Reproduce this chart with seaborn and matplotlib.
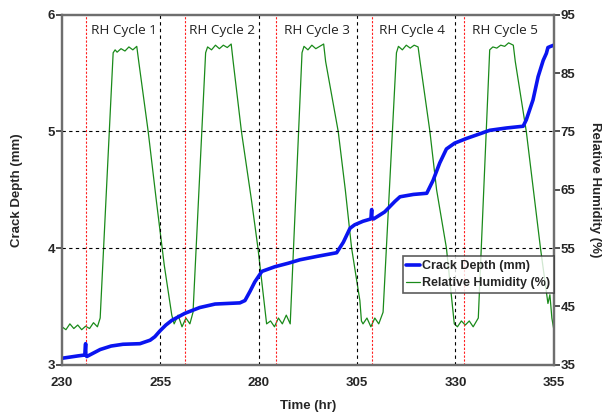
import matplotlib
matplotlib.use("Agg")
import matplotlib.pyplot as plt
import seaborn as sns
import pandas as pd

# ---- data ----
depth_t = [230, 232, 234, 235.8, 236.0, 236.05, 236.3, 239.7, 242.5, 245.5, 249.8, 252.4, 253.6, 254.9,
           256.4, 257.9, 261.2, 265.0, 268.9, 272.0, 275.2, 276.5, 277.8, 279.0, 280.8, 284.1,
           287.5, 290.5, 295.0, 299.8, 301.5, 303.2, 304.4, 306.5, 308.5, 308.7, 308.75, 309.2,
           312.0, 314.6, 315.9, 319.3, 322.7, 324.3, 326.0, 327.7, 329.8, 332.8, 336.2, 338.7,
           343.0, 347.2, 348.0, 349.7, 351.0, 352.3, 353.1, 353.5, 354.2, 355.0]
depth_v = [3.055, 3.065, 3.075, 3.083, 3.18, 3.09, 3.07, 3.13, 3.16, 3.175, 3.18, 3.21, 3.24, 3.29,
           3.34, 3.38, 3.44, 3.49, 3.52, 3.525, 3.53, 3.55, 3.63, 3.71, 3.80, 3.84,
           3.87, 3.90, 3.93, 3.96, 4.05, 4.17, 4.20, 4.23, 4.25, 4.33, 4.26, 4.25,
           4.31, 4.40, 4.44, 4.46, 4.47, 4.58, 4.73, 4.85, 4.90, 4.94, 4.98, 5.01,
           5.03, 5.045, 5.10, 5.27, 5.47, 5.61, 5.67, 5.72, 5.73, 5.74]

rh_t = [230, 231, 232, 233, 234, 235, 236, 237, 238, 239, 239.7,
        243.0, 243.5, 244, 245, 246, 247, 248, 249,
        249.5, 251.9, 254.0, 256.0, 257.9,
        258.5, 259.5, 260.5, 261.5, 262.5, 263.3,
        266.5, 267, 268, 269, 270, 271, 272, 273,
        273.5, 275.6, 278.2, 279.8, 282.0,
        283, 284, 285, 286, 287, 288,
        291.0, 291.5, 292.5, 293.5, 294.5, 295.5, 296.5,
        297.0, 300.2, 302.0, 303.6, 305.7, 306.1,
        306.5, 307.5, 308.5, 309.5, 310.5, 311.6,
        315.0, 315.5, 316.5, 317.5, 318.5, 319.5, 320.5,
        321.0, 323.5, 325.2, 327.7, 329.7,
        330.5, 331.5, 332.5, 333.5, 334.5, 335.8,
        338.7, 339.5, 340.5, 341.5, 342.5, 343.5, 344.7,
        345.2, 348.0, 349.8, 351.6, 353.0, 353.5, 354.0, 354.5, 355.0]
rh_v = [41.5, 41.0, 42.0, 41.2, 41.8, 41.0, 41.6, 41.2, 42.2, 41.5, 43.0,
        88.5, 89.0, 88.6, 89.2, 88.8, 89.5, 89.0, 89.6,
        87.0, 75.0, 63.0, 52.0, 43.5,
        42.0, 43.5, 41.5, 43.0, 42.0, 44.0,
        88.5, 89.5, 89.0, 89.8, 89.2, 89.8, 89.4, 90.0,
        87.0, 75.0, 63.0, 55.0, 42.0,
        42.5, 41.5, 43.0, 42.0, 43.5, 42.0,
        88.5, 89.6, 89.0, 89.8, 89.2, 89.6, 90.0,
        87.0, 75.0, 65.0, 55.0, 46.0, 42.5,
        42.0, 43.0, 41.5, 43.0, 42.0, 44.0,
        88.5, 89.6, 89.0, 89.8, 89.3, 89.8, 89.5,
        87.0, 75.0, 65.0, 55.0, 42.0,
        41.5, 42.5, 41.8, 42.5, 41.5, 43.0,
        89.0, 89.5, 89.3, 89.8, 89.6, 90.2, 89.8,
        87.0, 75.0, 65.0, 55.0, 48.0, 45.5, 47.0, 43.0, 41.0]

cycle_starts = [236.0, 261.3, 284.4, 308.7, 332.2]
cycle_labels = ["RH Cycle 1", "RH Cycle 2", "RH Cycle 3", "RH Cycle 4", "RH Cycle 5"]
cycle_label_x = [245.7, 270.6, 294.7, 319.0, 342.5]

x_ticks = [230, 255, 280, 305, 330, 355]
depth_ticks = [3, 4, 5, 6]
rh_ticks = [35, 45, 55, 65, 75, 85, 95]

# ---- plot ----
sns.set_theme(style="white")
plt.rcParams['font.family'] = ['Liberation Sans', 'DejaVu Sans']

fig = plt.figure(figsize=(6.02, 4.13), dpi=100)
ax = fig.add_axes([0.103, 0.117, 0.817, 0.847])
ax2 = ax.twinx()
ax.set_zorder(ax2.get_zorder() + 1)
ax.patch.set_visible(False)

df_d = pd.DataFrame({"t": depth_t, "v": depth_v})
df_r = pd.DataFrame({"t": rh_t, "v": rh_v})

sns.lineplot(data=df_r, x="t", y="v", ax=ax2, color="#1a8a1a", lw=0.9,
             sort=False, estimator=None, label="Relative Humidity (%)", legend=False)
sns.lineplot(data=df_d, x="t", y="v", ax=ax, color="#0a14f0", lw=2.6,
             sort=False, estimator=None, label="Crack Depth (mm)", legend=False)

for xs in cycle_starts:
    ax.axvline(xs, color="#ff2020", ls=(0, (2, 1.5)), lw=0.8, zorder=1)

for xt in x_ticks[1:-1]:
    ax.axvline(xt, color="black", ls=(0, (3, 3)), lw=0.8, zorder=1)
for yt in depth_ticks[1:-1]:
    ax.axhline(yt, color="black", ls=(0, (3, 3)), lw=0.8, zorder=1)

for lx, lab in zip(cycle_label_x, cycle_labels):
    ax.text(lx, 5.87, lab, ha="center", va="center", fontsize=9.7,
            family=['Open Sans', 'DejaVu Sans'], color="#222222")

ax.set_xlim(230, 355)
ax.set_ylim(3, 6)
ax2.set_ylim(35, 95)
ax.set_xticks(x_ticks)
ax.set_yticks(depth_ticks)
ax2.set_yticks(rh_ticks)

for a in (ax, ax2):
    for s in a.spines.values():
        s.set_color("#6e6e6e")
        s.set_linewidth(1.6)
    a.tick_params(labelsize=9.5, width=1.2, length=4, color="#333333", direction="out")
    for lbl in a.get_xticklabels() + a.get_yticklabels():
        lbl.set_fontweight("bold")
ax.tick_params(axis="x", length=0, pad=9)
ax.tick_params(axis="y", left=True, pad=1)
ax2.tick_params(axis="y", right=True, pad=1)

ax.set_xlabel("Time (hr)", fontsize=9.5, fontweight="bold", labelpad=8)
ax.set_ylabel("Crack Depth (mm)", fontsize=9.5, fontweight="bold", labelpad=18)
ax2.set_ylabel("Relative Humidity (%)", fontsize=9.5, fontweight="bold", rotation=270, labelpad=18)

h1, l1 = ax.get_legend_handles_labels()
h2, l2 = ax2.get_legend_handles_labels()
leg = ax.legend(h1 + h2, l1 + l2, loc="upper right", bbox_to_anchor=(1.0, 0.31),
                fontsize=9, frameon=True, fancybox=False, handlelength=1.1,
                handletextpad=0.15, borderpad=0.3, labelspacing=0.4, borderaxespad=0)
leg.get_frame().set_edgecolor("#333333")
leg.get_frame().set_linewidth(1.2)
for t in leg.get_texts():
    t.set_fontweight("bold")

fig.savefig("out.png", dpi=100)
